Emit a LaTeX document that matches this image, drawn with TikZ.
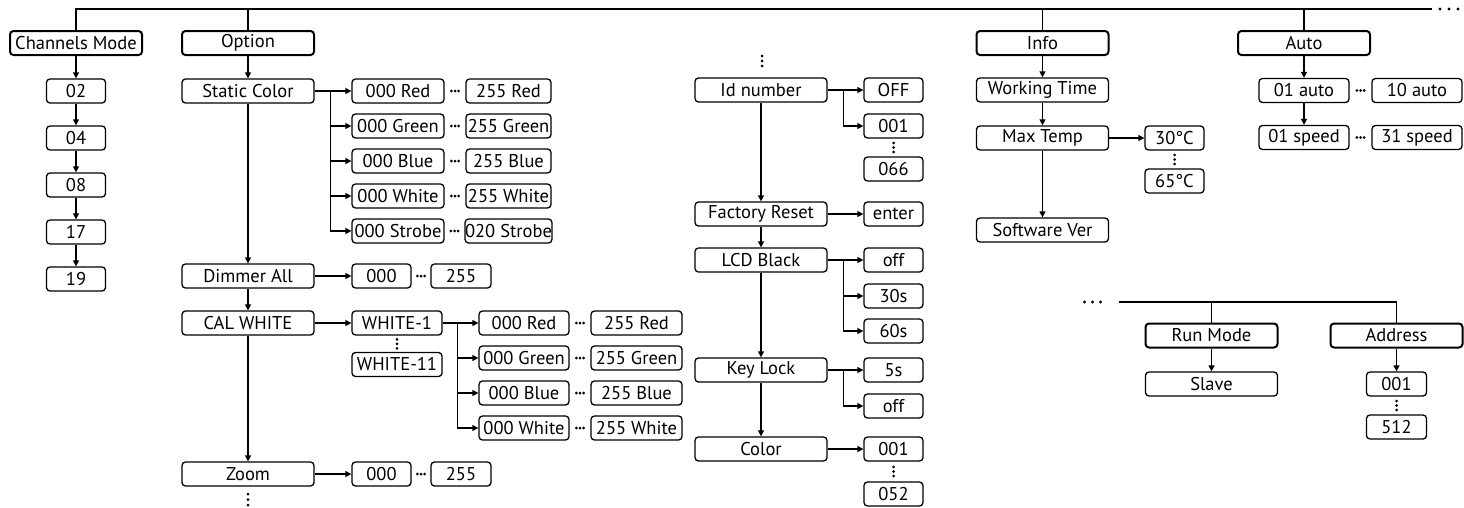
\documentclass[tikz,border=0pt]{standalone}
\usepackage{fontspec}
\setmainfont{PT Sans}
\usetikzlibrary{arrows.meta}

\begin{document}
\begin{tikzpicture}[
    x=1pt, y=-1pt,
    >={Triangle[length=6pt,width=6pt]},
    every node/.style={
        font=\fontsize{18.5}{21}\selectfont,
        inner sep=0pt
    },
    menubox/.style={
        draw,
        rounded corners=3.5pt,
        line width=2pt,
        fill=white,
        minimum width=132pt,
        minimum height=24pt
    },
    itembox/.style={
        draw,
        rounded corners=3.5pt,
        line width=1.3pt,
        fill=white,
        minimum width=#1,
        minimum height=24pt
    },
    itembox/.default=132pt,
    link/.style={
        draw,
        line width=1.3pt,
        ->
    },
    busline/.style={
        draw,
        line width=1.3pt
    }
]

\useasboundingbox (0,0) rectangle (1464,507);

% ============ TOP MENU ============
\coordinate (busend) at (1432,9);
\node[menubox] (chmode) at (76,43) {Channels Mode};
\node[menubox] (option) at (248,43) {Option};
\node[menubox] (info) at (1042.5,43) {Info};
\node[menubox] (auto) at (1304,43) {Auto};

\draw[busline] (chmode.north) |- (busend);
\foreach \n in {option, info, auto}
    \draw[busline] (\n.north) -- (\n.north |- busend);
\foreach \d in {1440, 1449, 1458}
    \fill (\d,9) circle (1.6pt);

% ============ CHANNELS MODE ============
\foreach \v [count=\i] in {02, 04, 08, 17, 19}
    \node[itembox=59pt] (ch\v) at (76, 44+47*\i) {\v};
\foreach \a/\b in {chmode/ch02, ch02/ch04, ch04/ch08, ch08/ch17, ch17/ch19}
    \draw[link] (\a) -- (\b);

% ============ OPTION ============
\node[itembox] (static) at (248,91) {Static Color};
\node[itembox] (dimmer) at (248,276) {Dimmer All};
\node[itembox] (calwhite) at (248,323) {CAL WHITE};
\node[itembox] (zoom) at (248,474) {Zoom};
\foreach \a/\b in {option/static, static/dimmer, dimmer/calwhite, calwhite/zoom}
    \draw[link] (\a) -- (\b);
\foreach \d in {494, 499.5, 505}
    \fill (248,\d) circle (1.5pt);

% Static color values
\foreach \c/\lo/\hi [count=\i from 0] in {red/000 Red/255 Red, grn/000 Green/255 Green,
        blu/000 Blue/255 Blue, wht/000 White/255 White, stb/000 Strobe/020 Strobe} {
    \node[itembox=92pt] (s\c-lo) at (398, 91+35*\i) {\lo};
    \node[itembox=85pt] (s\c-hi) at (508.5, 91+35*\i) {\hi};
}
\draw[link] (static) -- (sred-lo);
\foreach \c in {grn, blu, wht, stb}
    \draw[link] (static.east) -- ++(16,0) |- (s\c-lo.west);

% Dimmer and zoom values
\node[itembox=59pt] (dim-lo) at (381.5,276) {000};
\node[itembox=60pt] (dim-hi) at (461,276) {255};
\draw[link] (dimmer) -- (dim-lo);
\node[itembox=59pt] (zm-lo) at (381.5,474) {000};
\node[itembox=60pt] (zm-hi) at (461,474) {255};
\draw[link] (zoom) -- (zm-lo);

% Cal white
\node[itembox=90pt] (cw-first) at (397,323) {WHITE-1};
\node[itembox=90pt] (cw-last) at (397,364.5) {WHITE-11};
\draw[link] (calwhite) -- (cw-first);
\foreach \c/\lo/\hi [count=\i from 0] in {red/000 Red/255 Red, grn/000 Green/255 Green,
        blu/000 Blue/255 Blue, wht/000 White/255 White} {
    \node[itembox=90pt] (w\c-lo) at (524, 323+35*\i) {\lo};
    \node[itembox=91pt] (w\c-hi) at (636.5, 323+35*\i) {\hi};
}
\draw[link] (cw-first) -- (wred-lo);
\foreach \c in {grn, blu, wht}
    \draw[link] (cw-first.east) -- ++(15,0) |- (w\c-lo.west);

% ============ SETTINGS COLUMN ============
\foreach \d in {56, 61, 66}
    \fill (762,\d) circle (1.5pt);
\node[itembox] (idnum) at (761,90) {Id number};
\node[itembox] (reset) at (761,214) {Factory Reset};
\node[itembox] (lcd) at (761,260) {LCD Black};
\node[itembox] (keylock) at (761,370) {Key Lock};
\node[itembox] (color) at (761,449) {Color};
\foreach \a/\b in {idnum/reset, reset/lcd, lcd/keylock, keylock/color}
    \draw[link] (\a) -- (\b);

\node[itembox=59pt] (id-off) at (893.5,90) {OFF};
\node[itembox=59pt] (id-first) at (893.5,126) {001};
\node[itembox=59pt] (id-last) at (893.5,169) {066};
\node[itembox=59pt] (enter) at (893.5,214) {enter};
\node[itembox=59pt] (lcd-off) at (893.5,260) {off};
\node[itembox=59pt] (lcd-30) at (893.5,296) {30s};
\node[itembox=59pt] (lcd-60) at (893.5,331) {60s};
\node[itembox=59pt] (key-5) at (893.5,370) {5s};
\node[itembox=59pt] (key-off) at (893.5,406) {off};
\node[itembox=59pt] (col-first) at (893.5,449) {001};
\node[itembox=59pt] (col-last) at (893.5,494) {052};

\foreach \a/\b in {idnum/id-off, reset/enter, lcd/lcd-off, keylock/key-5, color/col-first}
    \draw[link] (\a) -- (\b);
\foreach \a/\b in {idnum/id-first, lcd/lcd-30, lcd/lcd-60, keylock/key-off}
    \draw[link] (\a.east) -- ++(16,0) |- (\b.west);

% ============ INFO ============
\node[itembox] (worktime) at (1042.5,90) {Working Time};
\node[itembox] (maxtemp) at (1042.5,138) {Max Temp};
\node[itembox] (softver) at (1042.5,230) {Software Ver};
\node[itembox=59pt] (temp-first) at (1174.5,138) {30°C};
\node[itembox=59pt] (temp-last) at (1174.5,181) {65°C};
\foreach \a/\b in {info/worktime, worktime/maxtemp, maxtemp/softver, maxtemp/temp-first}
    \draw[link] (\a) -- (\b);

% ============ AUTO ============
\node[itembox=90pt] (auto-first) at (1304,90.5) {01 auto};
\node[itembox=90pt] (auto-last) at (1417,90.5) {10 auto};
\node[itembox=90pt] (speed-first) at (1304,137.5) {01 speed};
\node[itembox=90pt] (speed-last) at (1417,137.5) {31 speed};
\foreach \a/\b in {auto/auto-first, auto-first/speed-first}
    \draw[link] (\a) -- (\b);

% ============ RUN MODE / ADDRESS ============
\coordinate (busstart) at (1119,302);
\foreach \d in {1084.5, 1092.5, 1100.5}
    \fill (\d,302) circle (1.6pt);
\node[menubox] (runmode) at (1211.5,335.5) {Run Mode};
\node[menubox] (address) at (1396.5,335.5) {Address};
\node[itembox] (slave) at (1211.5,384) {Slave};
\node[itembox=60pt] (addr-first) at (1396.5,384) {001};
\node[itembox=60pt] (addr-last) at (1396.5,427) {512};
\draw[busline] (busstart) -| (address.north);
\draw[busline] (runmode.north) -- (runmode.north |- busstart);
\foreach \a/\b in {runmode/slave, address/addr-first}
    \draw[link] (\a) -- (\b);

% ============ DOTS ============
\foreach \a/\b in {sred-lo/sred-hi, sgrn-lo/sgrn-hi, sblu-lo/sblu-hi, swht-lo/swht-hi,
        sstb-lo/sstb-hi, dim-lo/dim-hi, zm-lo/zm-hi, wred-lo/wred-hi, wgrn-lo/wgrn-hi,
        wblu-lo/wblu-hi, wwht-lo/wwht-hi, auto-first/auto-last, speed-first/speed-last} {
    \path (\a.east) -- coordinate[midway] (m) (\b.west);
    \foreach \d in {-3.6, 0, 3.6}
        \fill ([xshift=\d pt]m) circle (1.5pt);
}
\foreach \a/\b in {cw-first/cw-last, id-first/id-last, col-first/col-last,
        temp-first/temp-last, addr-first/addr-last} {
    \path (\a.south) -- coordinate[midway] (m) (\b.north);
    \foreach \d in {-4.5, 0, 4.5}
        \fill ([yshift=\d pt]m) circle (1.5pt);
}

\end{tikzpicture}
\end{document}
